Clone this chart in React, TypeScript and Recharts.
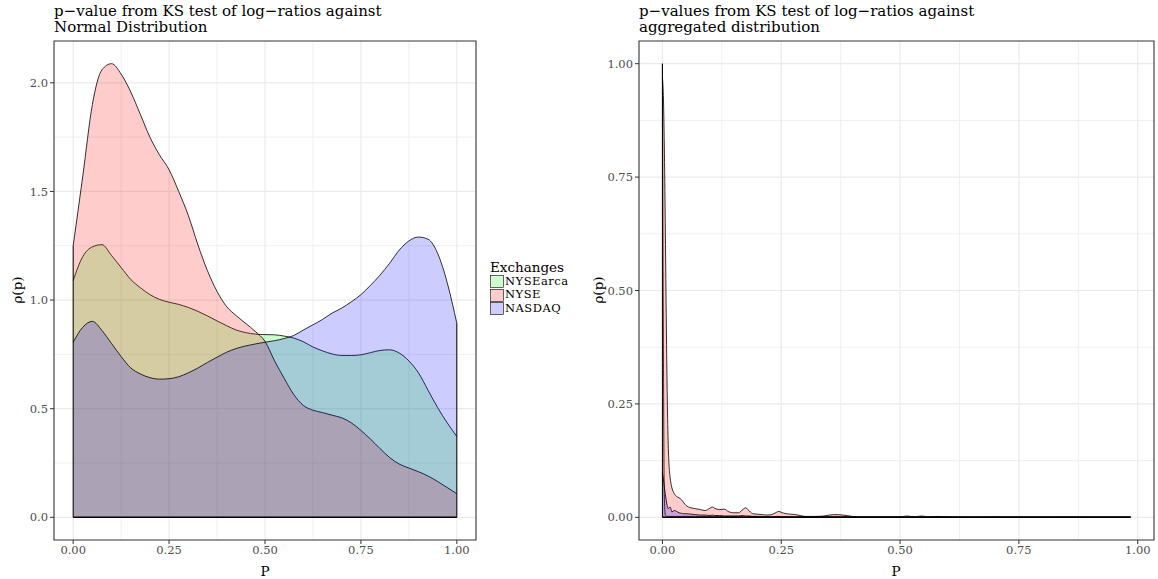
import React from 'react';
import { ComposedChart, Area, XAxis, YAxis, ReferenceLine, ReferenceArea, CartesianGrid } from 'recharts';

const FONT = '"DejaVu Serif", serif';

// ---------- Left panel: KS test against Normal distribution ----------
const leftP = [0, 0.025, 0.05, 0.075, 0.1, 0.125, 0.15, 0.175, 0.2, 0.225, 0.25, 0.275, 0.3, 0.325, 0.35, 0.375, 0.4, 0.425, 0.45, 0.475, 0.5, 0.525, 0.55, 0.575, 0.6, 0.625, 0.65, 0.675, 0.7, 0.725, 0.75, 0.775, 0.8, 0.825, 0.85, 0.875, 0.9, 0.925, 0.95, 0.975, 1];
const leftNyseArca = [1.09, 1.2, 1.245, 1.255, 1.205, 1.15, 1.095, 1.057, 1.025, 1.003, 0.99, 0.98, 0.966, 0.948, 0.927, 0.904, 0.882, 0.862, 0.85, 0.843, 0.841, 0.84, 0.834, 0.825, 0.808, 0.784, 0.766, 0.752, 0.745, 0.745, 0.748, 0.758, 0.768, 0.771, 0.756, 0.72, 0.665, 0.585, 0.505, 0.435, 0.372];
const leftNyse = [1.25, 1.57, 1.9, 2.06, 2.088, 2.04, 1.958, 1.855, 1.75, 1.668, 1.6, 1.5, 1.39, 1.255, 1.135, 1.04, 0.97, 0.928, 0.892, 0.855, 0.81, 0.72, 0.64, 0.565, 0.515, 0.493, 0.482, 0.47, 0.458, 0.435, 0.4, 0.36, 0.316, 0.275, 0.245, 0.227, 0.21, 0.19, 0.165, 0.137, 0.109];
const leftNasdaq = [0.806, 0.875, 0.902, 0.86, 0.8, 0.74, 0.688, 0.66, 0.643, 0.636, 0.638, 0.647, 0.665, 0.687, 0.713, 0.737, 0.76, 0.777, 0.789, 0.798, 0.806, 0.813, 0.823, 0.837, 0.862, 0.886, 0.911, 0.94, 0.963, 0.992, 1.025, 1.068, 1.115, 1.17, 1.23, 1.272, 1.29, 1.28, 1.215, 1.08, 0.893];

// ---------- Right panel: KS test against aggregated distribution ----------
const rightP = [0, 0.002, 0.004, 0.006, 0.008, 0.01, 0.012, 0.014, 0.016, 0.018, 0.02, 0.025, 0.03, 0.035, 0.04, 0.045, 0.05, 0.06, 0.07, 0.08, 0.09, 0.1, 0.105, 0.11, 0.12, 0.13, 0.14, 0.15, 0.16, 0.17, 0.175, 0.18, 0.19, 0.2, 0.21, 0.22, 0.23, 0.24, 0.245, 0.25, 0.26, 0.27, 0.28, 0.29, 0.3, 0.32, 0.34, 0.36, 0.38, 0.4, 0.42, 0.44, 0.46, 0.48, 0.5, 0.515, 0.53, 0.545, 0.56, 0.58, 0.6, 0.65, 0.7, 0.75, 0.8, 0.85, 0.9, 0.95, 0.985];
const rightNyseArca = [1.0, 0.4, 0.05, 0.006, 0.003, 0.002, 0.002, 0.002, 0.002, 0.002, 0.002, 0.002, 0.002, 0.002, 0.002, 0.002, 0.002, 0.002, 0.002, 0.002, 0.002, 0.002, 0.002, 0.002, 0.002, 0.002, 0.002, 0.002, 0.002, 0.002, 0.002, 0.002, 0.002, 0.002, 0.001, 0.001, 0.001, 0.001, 0.001, 0.001, 0.001, 0.001, 0.001, 0.001, 0.001, 0.001, 0.001, 0.001, 0.001, 0.0005, 0.0005, 0.0005, 0.0005, 0.0005, 0.0005, 0.0005, 0.0005, 0.0005, 0.0005, 0.0005, 0.0005, 0.0005, 0.0005, 0.0005, 0.0005, 0.0005, 0.0005, 0.0005, 0.0005];
const rightNyse = [0.97, 0.93, 0.82, 0.65, 0.45, 0.28, 0.17, 0.115, 0.09, 0.075, 0.065, 0.052, 0.046, 0.043, 0.039, 0.032, 0.026, 0.021, 0.019, 0.017, 0.015, 0.02, 0.023, 0.02, 0.017, 0.018, 0.012, 0.01, 0.01, 0.018, 0.021, 0.017, 0.008, 0.007, 0.006, 0.005, 0.006, 0.011, 0.013, 0.011, 0.008, 0.007, 0.006, 0.004, 0.002, 0.002, 0.003, 0.006, 0.005, 0.002, 0.001, 0.001, 0.001, 0.001, 0.001, 0.003, 0.001, 0.003, 0.001, 0.002, 0.001, 0.0005, 0.001, 0.0005, 0.0005, 0.001, 0.0005, 0.0005, 0.0005];
const rightNasdaq = [0.1, 0.085, 0.068, 0.052, 0.038, 0.026, 0.019, 0.021, 0.023, 0.018, 0.012, 0.015, 0.013, 0.01, 0.009, 0.008, 0.008, 0.007, 0.006, 0.005, 0.005, 0.004, 0.005, 0.004, 0.004, 0.003, 0.003, 0.003, 0.003, 0.004, 0.003, 0.003, 0.002, 0.002, 0.002, 0.001, 0.001, 0.002, 0.002, 0.001, 0.001, 0.001, 0.001, 0.001, 0.001, 0.001, 0.001, 0.001, 0.001, 0.0005, 0.0005, 0.0005, 0.0005, 0.0005, 0.0005, 0.0005, 0.0005, 0.0005, 0.0005, 0.0005, 0.0005, 0.0005, 0.0005, 0.0005, 0.0005, 0.0005, 0.0005, 0.0005, 0.0005];

const seriesNames = ['NYSEarca', 'NYSE', 'NASDAQ'];
const seriesKeys = ['arca', 'nyse', 'nasdaq'];
const seriesColors = ['#00FF00', '#FF0000', '#0000FF'];

const xTicks = [0, 0.25, 0.5, 0.75, 1];
const xTickLabels = ['0.00', '0.25', '0.50', '0.75', '1.00'];
const xMinor = [0.125, 0.375, 0.625, 0.875];
const leftYTicks = [0, 0.5, 1, 1.5, 2];
const leftYTickLabels = ['0.0', '0.5', '1.0', '1.5', '2.0'];
const leftYMinor = [0.25, 0.75, 1.25, 1.75];
const rightYTicks = [0, 0.25, 0.5, 0.75, 1];
const rightYTickLabels = ['0.00', '0.25', '0.50', '0.75', '1.00'];
const rightYMinor = [0.125, 0.375, 0.625, 0.875];

const leftTitle = ['p\u2212value from KS test of log\u2212ratios against', 'Normal Distribution'];
const rightTitle = ['p\u2212values from KS test of log\u2212ratios against', 'aggregated distribution'];
const xTitle = 'P';
const yTitle = '\u03C1(p)';
const legendTitle = 'Exchanges';

type PanelProps = {
  p: number[];
  series: number[][];
  yTicks: number[];
  yTickLabels: string[];
  yMinor: number[];
  left: number;
  width: number;
  marginLeft: number;
};

function expand(min: number, max: number): [number, number] {
  const r = max - min;
  return [min - 0.05 * r, max + 0.05 * r];
}

function Panel({ p, series, yTicks, yTickLabels, yMinor, left, width, marginLeft }: PanelProps) {
  const rows = p.map((x, i) => {
    const row: Record<string, number> = { p: x };
    seriesKeys.forEach((k, j) => {
      row[k] = series[j][i];
    });
    return row;
  });
  const pMin = p[0];
  const pMax = p[p.length - 1];
  const yMax = Math.max(...series.map((s) => Math.max(...s)));
  const xDom = expand(pMin, pMax);
  const yDom = expand(0, yMax);
  const firstMax = Math.max(...series.map((s) => s[0]));
  const lastMax = Math.max(...series.map((s) => s[s.length - 1]));
  const xFmt = (v: number) => xTickLabels[xTicks.indexOf(v)] ?? '';
  const yFmt = (v: number) => yTickLabels[yTicks.indexOf(v)] ?? '';
  const tickStyle = { fill: '#4D4D4D', fontSize: 11.5, fontFamily: FONT };
  const xMajor = xTicks.filter((t) => t <= xDom[1]);
  return (
    <div style={{ position: 'absolute', left, top: 0 }}>
      <ComposedChart
        width={width}
        height={579}
        data={rows}
        margin={{ top: 41, right: 4, bottom: 9, left: marginLeft }}
      >
        <CartesianGrid
          horizontalValues={yMinor}
          verticalValues={xMinor}
          stroke="#F0F0F0"
          strokeWidth={1}
        />
        <CartesianGrid
          horizontalValues={yTicks}
          verticalValues={xMajor}
          stroke="#EBEBEB"
          strokeWidth={1.2}
        />
        <XAxis
          dataKey="p"
          type="number"
          domain={xDom}
          allowDataOverflow
          ticks={xMajor}
          tickFormatter={xFmt}
          tick={tickStyle}
          tickLine={{ stroke: '#333333' }}
          tickSize={4}
          tickMargin={2}
          axisLine={false}
          height={30}
          interval={0}
        />
        <YAxis
          type="number"
          domain={yDom}
          allowDataOverflow
          ticks={yTicks}
          tickFormatter={yFmt}
          tick={tickStyle}
          tickLine={{ stroke: '#333333' }}
          tickSize={4}
          tickMargin={2}
          axisLine={false}
          width={40}
          interval={0}
        />
        {seriesKeys.map((k, j) => (
          <Area
            key={k}
            type="monotone"
            dataKey={k}
            baseValue={0}
            fill={seriesColors[j]}
            fillOpacity={0.2}
            stroke="#000000"
            strokeWidth={0.8}
            isAnimationActive={false}
            dot={false}
            activeDot={false}
          />
        ))}
        <ReferenceLine segment={[{ x: pMin, y: 0 }, { x: pMin, y: firstMax }]} stroke="#000000" strokeWidth={1} />
        <ReferenceLine segment={[{ x: pMax, y: 0 }, { x: pMax, y: lastMax }]} stroke="#000000" strokeWidth={1} />
        <ReferenceLine segment={[{ x: pMin, y: 0 }, { x: pMax, y: 0 }]} stroke="#000000" strokeWidth={1.6} />
        <ReferenceArea x1={xDom[0]} x2={xDom[1]} y1={yDom[0]} y2={yDom[1]} fill="none" stroke="#333333" strokeWidth={1.1} ifOverflow="visible" />
      </ComposedChart>
    </div>
  );
}

const textBase: React.CSSProperties = { position: 'absolute', fontFamily: FONT, color: '#000', whiteSpace: 'nowrap' };

export default function App() {
  return (
    <div style={{ position: 'fixed', left: 0, top: 0, width: 1158, height: 579, background: '#fff', overflow: 'hidden' }}>
      <Panel
        p={leftP}
        series={[leftNyseArca, leftNyse, leftNasdaq]}
        yTicks={leftYTicks}
        yTickLabels={leftYTickLabels}
        yMinor={leftYMinor}
        left={0}
        width={480}
        marginLeft={14}
      />
      <Panel
        p={rightP}
        series={[rightNyseArca, rightNyse, rightNasdaq]}
        yTicks={rightYTicks}
        yTickLabels={rightYTickLabels}
        yMinor={rightYMinor}
        left={580}
        width={578}
        marginLeft={19}
      />
      {/* titles */}
      <div style={{ ...textBase, left: 54, top: 3, fontSize: 15, lineHeight: '16px' }}>
        {leftTitle.map((t) => (<div key={t}>{t}</div>))}
      </div>
      <div style={{ ...textBase, left: 639, top: 3, fontSize: 15, lineHeight: '16px' }}>
        {rightTitle.map((t) => (<div key={t}>{t}</div>))}
      </div>
      {/* axis titles */}
      <div style={{ ...textBase, left: 265, top: 571, fontSize: 13.5, transform: 'translate(-50%, -50%)' }}>{xTitle}</div>
      <div style={{ ...textBase, left: 896, top: 571, fontSize: 13.5, transform: 'translate(-50%, -50%)' }}>{xTitle}</div>
      <div style={{ ...textBase, left: 17, top: 290, fontSize: 13.5, transform: 'translate(-50%, -50%) rotate(-90deg)' }}>{yTitle}</div>
      <div style={{ ...textBase, left: 598, top: 290, fontSize: 13.5, transform: 'translate(-50%, -50%) rotate(-90deg)' }}>{yTitle}</div>
      {/* legend */}
      <div style={{ ...textBase, left: 490, top: 260 }}>
        <div style={{ fontSize: 13.5, lineHeight: '15px', height: 15 }}>{legendTitle}</div>
        {seriesNames.map((n, j) => (
          <div key={n} style={{ display: 'flex', alignItems: 'center', height: 13.4, fontSize: 11.5, letterSpacing: 0.5 }}>
            <svg width={14} height={13} style={{ display: 'block' }}>
              <rect x={0.5} y={0.5} width={13} height={12} fill={seriesColors[j]} fillOpacity={0.2} stroke="#000" strokeWidth={0.6} />
            </svg>
            <span style={{ marginLeft: 1, lineHeight: '13.4px' }}>{n}</span>
          </div>
        ))}
      </div>
    </div>
  );
}
